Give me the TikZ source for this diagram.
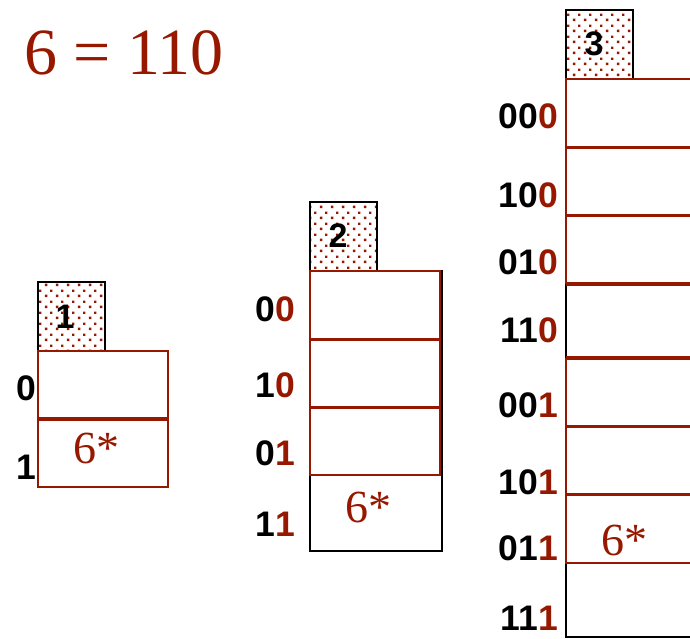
\documentclass[tikz,border=0pt]{standalone}
\usepackage{fontspec}
\setmainfont{Liberation Serif}
\newfontfamily\lblfont{Liberation Sans}
\usetikzlibrary{patterns}
\definecolor{dred}{RGB}{150,24,0}
\pgfdeclarepatternformonly{stagdots}{\pgfpointorigin}{\pgfqpoint{11pt}{11pt}}{\pgfqpoint{11pt}{11pt}}{%
  \pgfpathrectangle{\pgfqpoint{1pt}{1pt}}{\pgfqpoint{2.6pt}{2.6pt}}%
  \pgfpathrectangle{\pgfqpoint{6.5pt}{6.5pt}}{\pgfqpoint{2.6pt}{2.6pt}}%
  \pgfusepath{fill}}
\tikzset{
  dotbox/.style={draw=black, line width=1.6pt, pattern=stagdots, pattern color=dred,
    minimum width=67pt, minimum height=69pt, inner sep=0pt,
    font=\lblfont\bfseries\fontsize{34}{34}\selectfont},
  boxnum/.style={inner sep=0pt, font=\lblfont\bfseries\fontsize{34}{34}\selectfont},
  lbl/.style={anchor=east, inner sep=0pt, font=\lblfont\bfseries\fontsize{35.5}{36}\selectfont},
  star/.style={anchor=base, inner sep=0pt, text=dred, font=\fontsize{46}{46}\selectfont},
  redthin/.style={draw=dred, line width=2pt},
  redthick/.style={draw=dred, line width=3.8pt},
  blk/.style={draw=black, line width=1.8pt},
}
\begin{document}
\begin{tikzpicture}[x=1pt,y=-1pt]
\useasboundingbox (0,0) rectangle (690,638);
% title
\node[anchor=base west, inner sep=0pt, text=dred, font=\fontsize{66}{66}\selectfont] (title) at (24,74) {6 = 110};

% ---------- table 1 ----------
\node[dotbox] (b1) at (71.5,316.5) {};
\node[boxnum] (n1) at (65,317) {1};
\draw[redthin] (38,351) rectangle (168,487);
\draw[redthick] (38,419) -- (168,419);
\node[lbl] (l1a) at (36,388) {0};
\node[lbl] (l1b) at (36,467) {1};
\node[star] (s1) at (96,463) {6*};

% ---------- table 2 ----------
\node[dotbox] (b2) at (343.5,236.5) {};
\node[boxnum] (n2) at (338,236) {2};
\draw[blk] (310,271) rectangle (442,551);
\draw[redthin] (310,271) rectangle (440,475);
\draw[redthick] (310,339.5) -- (440,339.5);
\draw[redthick] (310,407.5) -- (440,407.5);
\node[lbl] (l2a) at (295,309) {0\textcolor{dred}{0}};
\node[lbl] (l2b) at (295,385) {1\textcolor{dred}{0}};
\node[lbl] (l2c) at (295,453) {0\textcolor{dred}{1}};
\node[lbl] (l2d) at (295,524) {1\textcolor{dred}{1}};
\node[star] (s2) at (368,522) {6*};

% ---------- table 3 ----------
\node[dotbox] (b3) at (599.5,44.5) {};
\node[boxnum] (n3) at (594,44) {3};
\draw[blk] (566,79) -- (566,637) -- (695,637);
\draw[redthin] (695,79) -- (566,79) -- (566,284);
\draw[redthick] (566,284) -- (695,284);
\draw[redthick] (566,147.5) -- (695,147.5);
\draw[redthick] (566,215.5) -- (695,215.5);
\draw[redthick] (566,358) -- (695,358);
\draw[redthin] (566,358) -- (566,563) -- (695,563);
\draw[redthick] (566,426.5) -- (695,426.5);
\draw[redthick] (566,494.5) -- (695,494.5);
\node[lbl] (l3a) at (558,116) {00\textcolor{dred}{0}};
\node[lbl] (l3b) at (558,195) {10\textcolor{dred}{0}};
\node[lbl] (l3c) at (558,262) {01\textcolor{dred}{0}};
\node[lbl] (l3d) at (558,330) {11\textcolor{dred}{0}};
\node[lbl] (l3e) at (558,405) {00\textcolor{dred}{1}};
\node[lbl] (l3f) at (558,482) {10\textcolor{dred}{1}};
\node[lbl] (l3g) at (558,548) {01\textcolor{dred}{1}};
\node[lbl] (l3h) at (558,618) {11\textcolor{dred}{1}};
\node[star] (s3) at (624,555) {6*};
\end{tikzpicture}
\end{document}
